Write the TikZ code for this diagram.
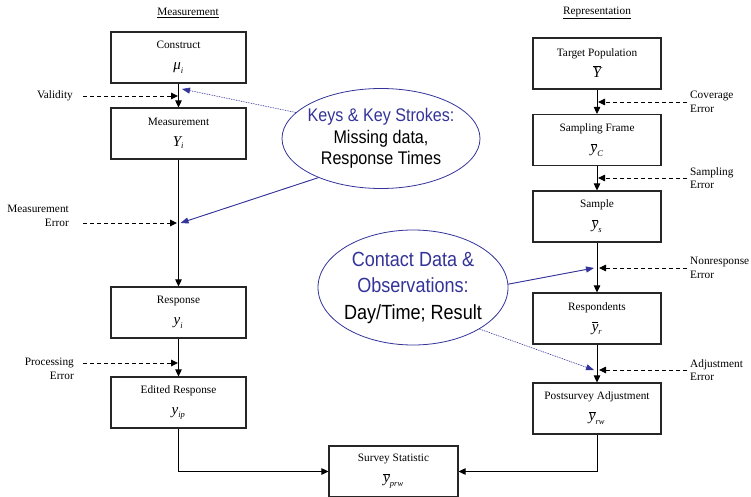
\documentclass[tikz,border=0pt]{standalone}
\usepackage{fontspec}
\setmainfont{Liberation Serif}
\newfontfamily\ellfont[FakeStretch=0.88]{Liberation Sans}
\usetikzlibrary{shapes.geometric,arrows.meta}
\definecolor{keyblue}{RGB}{51,51,153}

% letter with a bar above it
\newcommand\ovl[1]{\vbox{\hrule height 0.7pt\kern1.3pt\hbox{\itshape #1}}}
% italic variable with subscript, and with overbar
\newcommand\subv[2]{{\fontsize{15}{21}\selectfont$\hbox{\itshape #1}_{\hbox{\fontsize{8.5}{9}\selectfont\itshape #2}}$}}
\newcommand\barv[2]{{\fontsize{15}{21}\selectfont$\ovl{#1}_{\hbox{\fontsize{8.5}{9}\selectfont\itshape #2}}$}}
\newcommand\barY{{\fontsize{15}{21}\selectfont$\ovl{Y}$}}

\begin{document}
\begin{tikzpicture}[x=1pt,y=-1pt,
  font=\fontsize{11.3}{13.5}\selectfont,
  box/.style={draw=black!85, line width=1.1pt, minimum width=135pt, minimum height=51pt,
    align=center, inner sep=0pt, font=\fontsize{11.3}{21}\selectfont},
  rbox/.style={box, minimum width=128pt},
  flow/.style={-{Triangle[length=7pt,width=6.5pt]}, line width=0.9pt},
  err/.style={flow, dash pattern=on 4pt off 3pt},
  lbl/.style={align=right, anchor=east, inner sep=0pt},
  rlbl/.style={align=left, anchor=west, inner sep=0pt},
  bubble/.style={ellipse, draw=keyblue, line width=0.8pt, inner xsep=-10pt, inner ysep=0pt, align=center},
  keyarrow/.style={-{Triangle[length=8pt,width=6pt]}, draw=keyblue, fill=keyblue, line width=0.9pt},
  keydot/.style={keyarrow, line width=0.6pt, dash pattern=on 1pt off 1.5pt}
]
\useasboundingbox (0,0) rectangle (751,497);

% column headings
\node (mtitle) at (188,13) {\underline{Measurement}};
\node (rtitle) at (597,13) {\underline{Representation}};

% measurement side
\node[box] (construct) at (178.5,57.5) {Construct\\ \subv{μ}{i}};
\node[box] (measure)   at (178.5,133.5) {Measurement\\ \subv{Y}{i}};
\node[box] (response)  at (178.5,312.5) {Response\\ \subv{y}{i}};
\node[box] (edited)    at (178.5,402.5) {Edited Response\\ \subv{y}{ip}};

% representation side
\node[rbox] (target)  at (597,63.5)  {Target Population\\ \barY};
\node[rbox] (frame)   at (597,140)   {Sampling Frame\\ \barv{y}{C}};
\node[rbox] (sample)  at (597,216.5) {Sample\\ \barv{y}{s}};
\node[rbox] (resp)    at (597,318.5) {Respondents\\ \barv{y}{r}};
\node[rbox] (post)    at (597,408.5) {Postsurvey Adjustment\\ \barv{y}{rw}};

% combined statistic
\node[box, minimum width=129pt] (stat) at (393.5,471.5) {Survey Statistic\\ \barv{y}{prw}};

% main flow
\draw[flow] (construct) -- (measure);
\draw[flow] (measure) -- (response);
\draw[flow] (response) -- (edited);
\draw[flow] (edited.south) |- (stat.west);
\draw[flow] (target) -- (frame);
\draw[flow] (frame) -- (sample);
\draw[flow] (sample) -- (resp);
\draw[flow] (resp) -- (post);
\draw[flow] (post.south) |- (stat.east);

% error sources, left
\node[lbl] (validity) at (73,96) {Validity};
\node[lbl] (merr) at (69,216) {Measurement\\Error};
\node[lbl] (perr) at (74,369) {Processing\\Error};
\coordinate (vs) at (83,96);   \coordinate (ve) at (178,96);
\coordinate (ms) at (83,223);  \coordinate (me) at (177,223);
\coordinate (ps) at (83,363);  \coordinate (pe) at (178,363);
\draw[err] (vs) -- (ve);
\draw[err] (ms) -- (me);
\draw[err] (ps) -- (pe);

% error sources, right
\node[rlbl] (cerr) at (690,102) {Coverage\\Error};
\node[rlbl] (serr) at (690,178) {Sampling\\Error};
\node[rlbl] (nerr) at (690,268) {Nonresponse\\Error};
\node[rlbl] (aerr) at (690,370) {Adjustment\\Error};
\coordinate (cs) at (687,102); \coordinate (ce) at (598,102);
\coordinate (ss) at (687,178); \coordinate (se) at (598,178);
\coordinate (ns) at (687,268); \coordinate (ne) at (599,268);
\coordinate (as) at (687,370); \coordinate (ae) at (599,370);
\draw[err] (cs) -- (ce);
\draw[err] (ss) -- (se);
\draw[err] (ns) -- (ne);
\draw[err] (as) -- (ae);

% paradata bubbles
\node[bubble, minimum width=198pt, minimum height=100pt,
      font=\ellfont\fontsize{18.3}{21.5}\selectfont] (keys) at (381,138.5)
  {\textcolor{keyblue}{Keys \& Key Strokes:}\\Missing data,\\Response Times};
\node[bubble, minimum width=190pt, minimum height=115pt,
      font=\ellfont\fontsize{20.5}{26.5}\selectfont] (contact) at (413,287.5)
  {\textcolor{keyblue}{Contact Data \&}\\\textcolor{keyblue}{Observations:}\\Day/Time; Result};

% where paradata feed in
\coordinate (kv) at (182,89);
\coordinate (km) at (180.5,223);
\coordinate (cn) at (594,268);
\coordinate (ca) at (594,370);
\draw[keydot] (keys.163) -- (kv);
\draw[keyarrow] (keys.212) -- (km);
\draw[keyarrow] (contact.2) -- (cn);
\draw[keydot] (contact.-32) -- (ca);
\end{tikzpicture}
\end{document}
